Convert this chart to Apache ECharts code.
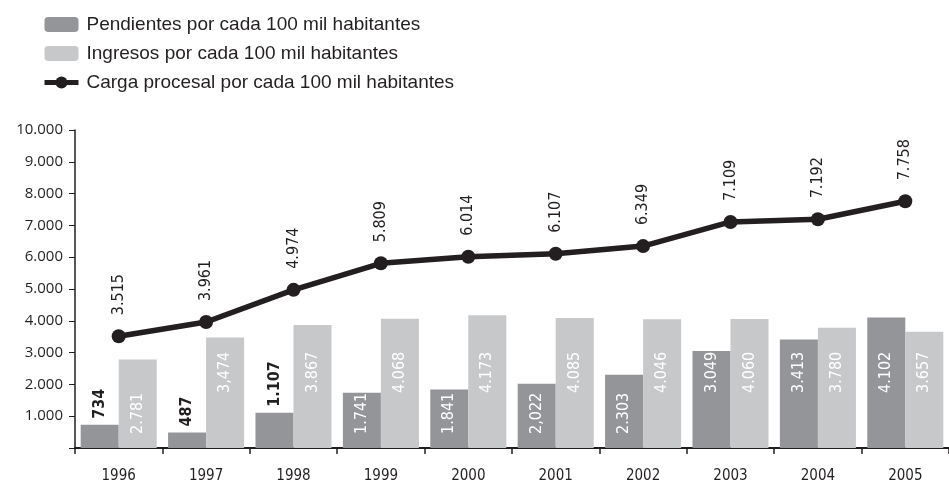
<!DOCTYPE html>
<html>
<head>
<meta charset="utf-8">
<script src="https://cdn.jsdelivr.net/npm/echarts@6/dist/echarts.min.js"></script>
<style>
  html, body { margin: 0; padding: 0; background: #fff; }
  #chart { width: 949px; height: 484px; }
</style>
</head>
<body>
<div id="chart"></div>
<script>
// datos
const years = ["1996", "1997", "1998", "1999", "2000", "2001", "2002", "2003", "2004", "2005"];
const pendientes = [734, 487, 1107, 1741, 1841, 2022, 2303, 3049, 3413, 4102];
const ingresos = [2781, 3474, 3867, 4068, 4173, 4085, 4046, 4060, 3780, 3657];
const carga = [3515, 3961, 4974, 5809, 6014, 6107, 6349, 7109, 7192, 7758];
// textos tal como aparecen (algunos con coma)
const pendientesText = ["734", "487", "1.107", "1.741", "1.841", "2,022", "2.303", "3.049", "3.413", "4.102"];
const ingresosText = ["2.781", "3,474", "3.867", "4.068", "4.173", "4.085", "4.046", "4.060", "3.780", "3.657"];
const seriesNames = [
  "Pendientes por cada 100 mil habitantes",
  "Ingresos por cada 100 mil habitantes",
  "Carga procesal por cada 100 mil habitantes",
];

const ink = "#231f20";
const darkGrey = "#939598";
const lightGrey = "#c7c8ca";
const narrow = "'Liberation Sans Narrow', 'DejaVu Sans Condensed', Roboto, sans-serif";

function fmt(v) {
  return String(v).replace(/\B(?=(\d{3})+(?!\d))/g, ".");
}

// etiqueta de barra: fuera (arriba) si la barra es muy baja, si no dentro
function barLabel(v, allowOutside) {
  if (allowOutside && v < 1500) {
    return { position: "top", distance: 6, color: ink, fontWeight: "bold" };
  }
  return { position: "insideBottom", distance: v >= 2900 ? 55 : 14, color: "#fff" };
}

const chart = echarts.init(document.getElementById("chart"));

const labelBase = {
  show: true,
  rotate: 90,
  align: "left",
  verticalAlign: "middle",
  overflow: "none",
  fontFamily: narrow,
  fontSize: 16,
};

const option = {
  animation: false,
  legend: {
    orient: "vertical",
    left: 42,
    top: 15,
    padding: 0,
    itemWidth: 34,
    itemHeight: 15,
    itemGap: 10,
    data: [
      { name: seriesNames[0] },
      { name: seriesNames[1] },
      { name: seriesNames[2], lineStyle: { width: 5 } },
    ],
    textStyle: { fontFamily: "'Liberation Sans', Arial, sans-serif", fontSize: 19, color: ink, padding: [0, 0, 0, 3] },
  },
  grid: { left: 75, right: -8, top: 130, bottom: 36 },
  xAxis: {
    type: "category",
    data: years,
    axisLine: { lineStyle: { color: ink, width: 2 } },
    axisTick: { show: true, length: 6, lineStyle: { color: ink, width: 1.5 } },
    axisLabel: { color: ink, fontFamily: narrow, fontSize: 15, margin: 21 },
  },
  yAxis: {
    type: "value",
    min: 0,
    max: 10000,
    interval: 1000,
    splitLine: { show: false },
    axisLine: { show: true, lineStyle: { color: ink, width: 1.5 } },
    axisTick: { show: true, length: 6, lineStyle: { color: ink } },
    axisLabel: {
      color: ink,
      fontFamily: "'Open Sans', sans-serif",
      fontSize: 15,
      margin: 12,
      padding: [0, 0, 6, 0],
      formatter: (v) => (v === 0 ? "" : fmt(v)),
    },
  },
  series: [
    {
      name: seriesNames[0],
      type: "bar",
      barGap: "0%",
      barCategoryGap: "13%",
      itemStyle: { color: darkGrey },
      label: { ...labelBase, formatter: (p) => pendientesText[p.dataIndex] },
      data: pendientes.map((v) => ({ value: v, label: barLabel(v, true) })),
    },
    {
      name: seriesNames[1],
      type: "bar",
      itemStyle: { color: lightGrey },
      label: { ...labelBase, formatter: (p) => ingresosText[p.dataIndex] },
      data: ingresos.map((v) => ({ value: v, label: barLabel(v, false) })),
    },
    {
      name: seriesNames[2],
      type: "line",
      z: 5,
      symbol: "circle",
      symbolSize: 14,
      lineStyle: { color: ink, width: 5.5 },
      itemStyle: { color: ink },
      label: { ...labelBase, position: "top", distance: 14, color: ink, fontWeight: 500, formatter: (p) => fmt(p.value) },
      data: carga,
    },
  ],
};

chart.setOption(option);
</script>
</body>
</html>
